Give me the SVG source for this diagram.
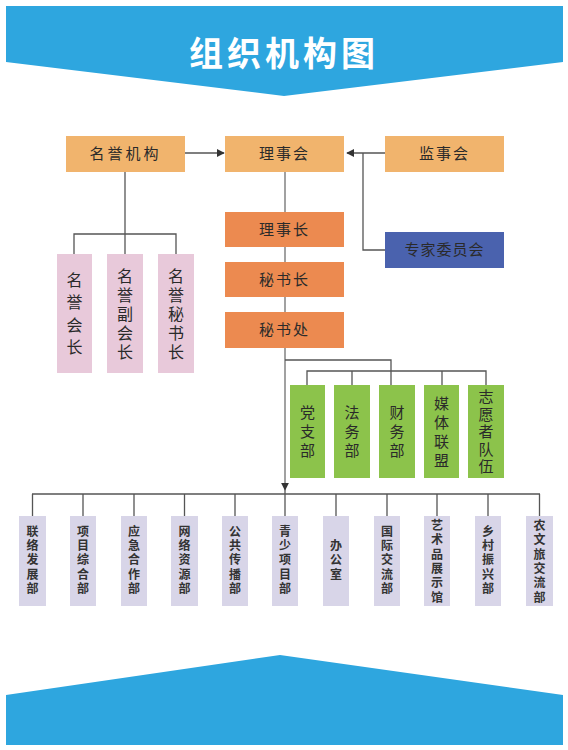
<svg xmlns="http://www.w3.org/2000/svg" width="568" height="750" viewBox="0 0 568 750">
<defs>
<style>
.t{font-family:"Noto Sans CJK SC","Noto Sans",sans-serif;fill:#2a2a2a;text-anchor:middle}
.vt{writing-mode:vertical-rl}
.h{font-size:15px}
.v{font-size:16px}
.g{font-size:15px}
.s{font-size:12px;font-weight:bold;fill:#333;letter-spacing:2.4px}
.ln{stroke:#555;stroke-width:1.3;fill:none}
.mn{stroke:#8a8a8a;stroke-width:1.6;fill:none}
.lo{fill:#f1b46d}
.do{fill:#ec8a50}
.pk{fill:#e8c9da}
.gr{fill:#8cc34b}
.lv{fill:#d8d5e8}
</style>
<marker id="ah" viewBox="0 0 10 10" refX="9" refY="5" markerWidth="8" markerHeight="8" markerUnits="userSpaceOnUse" orient="auto">
<path d="M0,0 L10,5 L0,10 Z" fill="#333"/>
</marker>
</defs>
<rect width="568" height="750" fill="#fff"/>
<g id="banner-top">
<polygon points="6,6 563,6 563,62 284,96 6,62" fill="#2ea6df"/>
<text x="284" y="66" font-family="'Noto Sans CJK SC',sans-serif" font-size="34" font-weight="bold" fill="#fff" text-anchor="middle" letter-spacing="4">组织机构图</text>
</g>
<g id="banner-bottom">
<polygon points="6,695 280,655 563,695 563,745 6,745" fill="#2ea6df"/>
</g>
<g id="connectors">
<line class="ln" x1="185" y1="153" x2="224" y2="153" marker-end="url(#ah)"/>
<polyline class="ln" points="385,153 347,153" marker-end="url(#ah)"/>
<polyline class="ln" points="385,250 363,250 363,153"/>
<polyline class="ln" points="125,172 125,234"/>
<polyline class="ln" points="74,254 74,234 176,234 176,254"/>
<line class="ln" x1="125" y1="234" x2="125" y2="254"/>
<line class="mn" x1="285" y1="172" x2="285" y2="212"/>
<line class="mn" x1="285" y1="247" x2="285" y2="262"/>
<line class="mn" x1="285" y1="297" x2="285" y2="312"/>
<line class="mn" x1="285" y1="348" x2="285" y2="490" marker-end="url(#ah)"/>
<polyline class="ln" points="285,360 391,360 391,385"/>
<polyline class="ln" points="307,385 307,371 486,371 486,385"/>
<line class="ln" x1="352" y1="371" x2="352" y2="385"/>
<line class="ln" x1="442" y1="371" x2="442" y2="385"/>
<line class="ln" x1="32" y1="494" x2="540" y2="494"/>
<line class="ln" x1="285" y1="490" x2="285" y2="516"/>
<path class="ln" d="M32.5,494V516M83,494V516M134,494V516M184.5,494V516M235,494V516M336,494V516M387,494V516M437,494V516M488,494V516M539.5,494V516"/>
</g>
<g id="n-mingyu"><rect class="lo" x="66" y="136" width="119" height="36"/><text class="t h" x="125.5" y="159" letter-spacing="3">名誉机构</text></g>
<g id="n-lishihui"><rect class="lo" x="225" y="136" width="119" height="36"/><text class="t h" x="284.5" y="159" letter-spacing="2">理事会</text></g>
<g id="n-jianshihui"><rect class="lo" x="385" y="136" width="119" height="36"/><text class="t h" x="444.5" y="159" letter-spacing="2">监事会</text></g>
<g id="n-zhuanjia"><rect x="385" y="232" width="119" height="36" fill="#4a62ae"/><text class="t h" x="444.5" y="255" letter-spacing="1">专家委员会</text></g>
<g id="n-lishizhang"><rect class="do" x="225" y="212" width="119" height="35"/><text class="t h" x="284.5" y="235" letter-spacing="2">理事长</text></g>
<g id="n-mishuzhang"><rect class="do" x="225" y="262" width="119" height="35"/><text class="t h" x="284.5" y="285" letter-spacing="2">秘书长</text></g>
<g id="n-mishuchu"><rect class="do" x="225" y="312" width="119" height="36"/><text class="t h" x="284.5" y="335" letter-spacing="2">秘书处</text></g>
<g id="n-mingyuhuizhang"><rect class="pk" x="57" y="254" width="35" height="119"/><text class="t v vt" x="74.5" y="316.75" letter-spacing="6.5">名誉会长</text></g>
<g id="n-mingyufu"><rect class="pk" x="107" y="254" width="36" height="119"/><text class="t v vt" x="125" y="315" letter-spacing="3">名誉副会长</text></g>
<g id="n-mingyumishu"><rect class="pk" x="158" y="254" width="36" height="119"/><text class="t v vt" x="176" y="315" letter-spacing="3">名誉秘书长</text></g>
<g id="n-dangzhibu"><rect class="gr" x="290" y="385" width="35" height="93"/><text class="t g vt" x="307.5" y="433.5" letter-spacing="4">党支部</text></g>
<g id="n-fawubu"><rect class="gr" x="334" y="385" width="36" height="93"/><text class="t g vt" x="352" y="433.5" letter-spacing="4">法务部</text></g>
<g id="n-caiwubu"><rect class="gr" x="379" y="385" width="36" height="93"/><text class="t g vt" x="397" y="433.5" letter-spacing="4">财务部</text></g>
<g id="n-meiti"><rect class="gr" x="424" y="385" width="35" height="93"/><text class="t g vt" x="441.5" y="433.5" letter-spacing="4">媒体联盟</text></g>
<g id="n-zhiyuanzhe"><rect class="gr" x="468" y="385" width="36" height="93"/><text class="t g vt" x="486" y="432.75" letter-spacing="2.5">志愿者队伍</text></g>
<g id="n-b1"><rect class="lv" x="19" y="516" width="27" height="90"/><text class="t s vt" x="32.5" y="561">联络发展部</text></g>
<g id="n-b2"><rect class="lv" x="70" y="516" width="26" height="90"/><text class="t s vt" x="83" y="561">项目综合部</text></g>
<g id="n-b3"><rect class="lv" x="121" y="516" width="26" height="90"/><text class="t s vt" x="134" y="561">应急合作部</text></g>
<g id="n-b4"><rect class="lv" x="171" y="516" width="27" height="90"/><text class="t s vt" x="184.5" y="561">网络资源部</text></g>
<g id="n-b5"><rect class="lv" x="222" y="516" width="26" height="90"/><text class="t s vt" x="235" y="561">公共传播部</text></g>
<g id="n-b6"><rect class="lv" x="272" y="516" width="26" height="90"/><text class="t s vt" x="285" y="561">青少项目部</text></g>
<g id="n-b7"><rect class="lv" x="323" y="516" width="26" height="90"/><text class="t s vt" x="336" y="561">办公室</text></g>
<g id="n-b8"><rect class="lv" x="374" y="516" width="26" height="90"/><text class="t s vt" x="387" y="561">国际交流部</text></g>
<g id="n-b9"><rect class="lv" x="424" y="516" width="26" height="90"/><text class="t s vt" x="437" y="562.5">艺术品展示馆</text></g>
<g id="n-b10"><rect class="lv" x="475" y="516" width="26" height="90"/><text class="t s vt" x="488" y="561">乡村振兴部</text></g>
<g id="n-b11"><rect class="lv" x="526" y="516" width="27" height="90"/><text class="t s vt" x="539.5" y="562.5">农文旅交流部</text></g>
</svg>
